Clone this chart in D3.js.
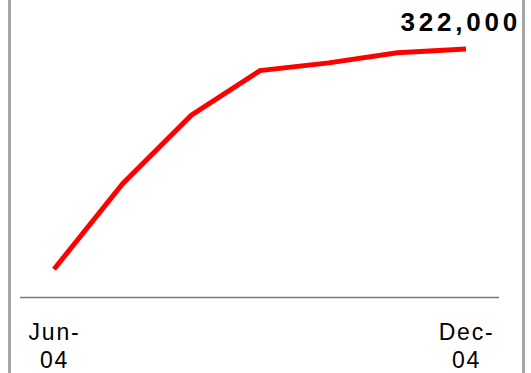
<!DOCTYPE html>
<html>
<head>
<meta charset="utf-8">
<script src="https://d3js.org/d3.v7.min.js"></script>
<style>
  body { margin: 0; background: #fff; }
  svg text { font-family: "Liberation Sans", Arial, sans-serif; fill: #000; }
</style>
</head>
<body>
<div id="chart"></div>
<script>
// data
const months = ["Jun", "Jul", "Aug", "Sep", "Oct", "Nov", "Dec"];
const values = [36000, 147000, 236000, 294000, 304000, 317000, 322000];
const tickMonths = ["Jun", "Dec"];
const tickLabels = [["Jun-", "04"], ["Dec-", "04"]];
const endLabel = "322,000";

const width = 531, height = 373;
const axisY = 297;

const svg = d3.select("#chart")
  .append("svg")
  .attr("width", width)
  .attr("height", height);

const x = d3.scalePoint().domain(months).range([54, 466]);
const y = d3.scaleLinear().domain([0, 322000]).range([axisY, 49]);

// side frame lines
svg.append("line")
  .attr("x1", 9.5).attr("x2", 9.5).attr("y1", 0).attr("y2", height)
  .attr("stroke", "#a6a6a6").attr("stroke-width", 3);
svg.append("line")
  .attr("x1", 523.5).attr("x2", 523.5).attr("y1", 0).attr("y2", height)
  .attr("stroke", "#a6a6a6").attr("stroke-width", 3);

// baseline
svg.append("line")
  .attr("x1", 20).attr("x2", 499)
  .attr("y1", axisY + 0.5).attr("y2", axisY + 0.5)
  .attr("stroke", "#777").attr("stroke-width", 1.3);

// x axis labels (two lines each)
const xAxis = d3.axisBottom(x).tickValues(tickMonths).tickSize(0).tickFormat("");
const gx = svg.append("g")
  .attr("transform", `translate(0,${axisY})`)
  .call(xAxis);
gx.select(".domain").remove();
gx.selectAll(".tick text").remove();
gx.selectAll(".tick").each(function(d, i) {
  const t = d3.select(this).append("text")
    .attr("text-anchor", "middle")
    .style("font-size", "23px")
    .style("letter-spacing", "1.8px")
    .attr("fill", "#000");
  tickLabels[i].forEach((s, j) => {
    t.append("tspan").attr("x", 0).attr("y", 43 + j * 28).text(s);
  });
});

// the line
const line = d3.line()
  .x((d, i) => x(months[i]))
  .y(d => y(d));

svg.append("path")
  .datum(values)
  .attr("d", line)
  .attr("fill", "none")
  .attr("stroke", "#ff0000")
  .attr("stroke-width", 5)
  .attr("stroke-linejoin", "miter");

// end value label
svg.append("text")
  .attr("x", x(months[months.length - 1]) + 55)
  .attr("y", 31)
  .attr("text-anchor", "end")
  .style("font-size", "26px")
  .style("font-weight", "bold")
  .style("letter-spacing", "3.8px")
  .text(endLabel);
</script>
</body>
</html>
